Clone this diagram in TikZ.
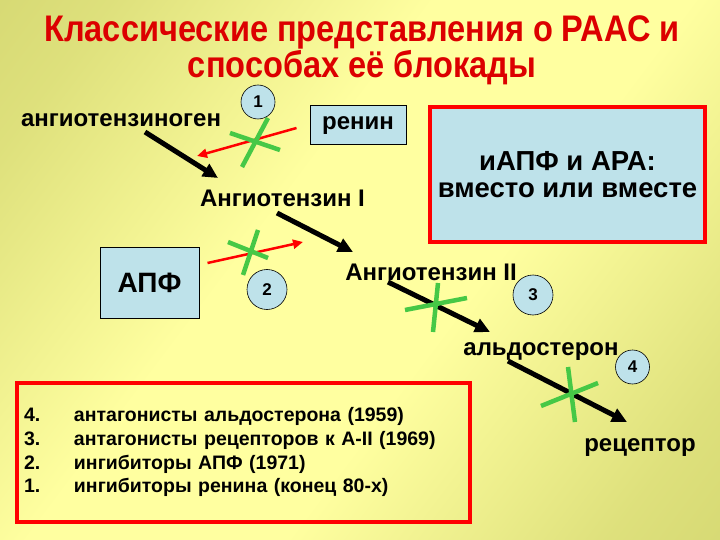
\documentclass[tikz,border=0pt]{standalone}
\usepackage{fontspec}
\setmainfont{Liberation Sans}
\newfontfamily\titlefont[FakeStretch=0.88]{Liberation Sans}
\usetikzlibrary{arrows.meta}
\definecolor{olive}{RGB}{200,204,100}
\definecolor{pale}{RGB}{255,255,160}
\definecolor{lblue}{RGB}{190,226,234}
\definecolor{xgreen}{RGB}{70,200,70}
\definecolor{ttlred}{RGB}{220,0,0}
\pgfdeclarehorizontalshading{bgband}{100bp}{color(0bp)=(olive); color(22bp)=(olive!60!pale); color(42bp)=(pale); color(58bp)=(pale); color(78bp)=(olive!60!pale); color(100bp)=(olive)}

\begin{document}
\begin{tikzpicture}[x=1pt, y=-1pt,
    title/.style={text=ttlred, align=center, font=\titlefont\fontsize{37}{33}\selectfont\bfseries},
    lbl/.style={anchor=base, font=\fontsize{24}{28}\selectfont\bfseries},
    bbox/.style={draw, fill=lblue, line width=1pt, font=\fontsize{24}{28}\selectfont\bfseries},
    num/.style={circle, draw, fill=lblue, line width=0.6pt, inner sep=0pt, font=\fontsize{17}{20}\selectfont\bfseries},
    conv/.style={line width=5pt, -{Triangle[length=15pt,width=14pt]}},
    inh/.style={red, line width=2.5pt, -{Triangle[length=10pt,width=9pt]}},
    cross/.style={xgreen, line width=4.5pt},
    frame/.style={draw=red, line width=4pt}]
  \shade[shading=bgband, shading angle=-37] (0,0) rectangle (720,540);
  \useasboundingbox (0,0) rectangle (720,540);

  \node[title] (ttl) at (362,50) {Классические представления о РААС и\\способах её блокады};

  \node[lbl] (agen) at (121,127) {ангиотензиноген};
  \node[num, minimum size=34pt] (n1) at (258,102) {1};
  \node[bbox, minimum width=96pt, minimum height=39pt] (renin) at (358,125.5) {ренин};
  \node[lbl] (ang1) at (282.5,207) {Ангиотензин I};
  \node[frame, fill=lblue, minimum width=275pt, minimum height=135pt, align=center,
        font=\fontsize{27.5}{27}\selectfont\bfseries] (q) at (567.5,174.5) {иАПФ и АРА:\\вместо или вместе};
  \node[bbox, minimum width=99pt, minimum height=71pt, font=\fontsize{28}{32}\selectfont\bfseries] (apf) at (149.5,282.5) {АПФ};
  \node[num, minimum size=40pt] (n2) at (267,289.5) {2};
  \node[lbl] (ang2) at (431,280) {Ангиотензин II};
  \node[num, minimum size=40pt] (n3) at (533,295) {3};
  \node[lbl] (ald) at (541,355) {альдостерон};
  \node[num, minimum size=34pt] (n4) at (632.5,367) {4};
  \node[lbl] (rec) at (640,451) {рецептор};

  \node[frame, anchor=north west, inner xsep=7pt, inner ysep=0pt, text width=439pt, minimum height=139pt,
        align=left, font=\fontsize{19.5}{23.7}\selectfont\bfseries] (lst) at (15,381)
    {\begin{tabular}{@{}p{50pt}@{}l@{}}
      4. & антагонисты альдостерона (1959)\\
      3. & антагонисты рецепторов к А-II (1969)\\
      2. & ингибиторы АПФ (1971)\\
      1. & ингибиторы ренина (конец 80-х)
    \end{tabular}};

  \draw[conv] ([xshift=24pt,yshift=-5pt]agen.base) -- ([xshift=-64.5pt,yshift=29pt]ang1.base);
  \draw[conv] ([xshift=-5.5pt,yshift=-6pt]ang1.base) -- ([xshift=-78pt,yshift=28pt]ang2.base);
  \draw[conv] ([xshift=-43pt,yshift=-2pt]ang2.base) -- ([xshift=-51pt,yshift=23pt]ald.base);
  \draw[conv] ([xshift=-33pt,yshift=-6pt]ald.base) -- ([xshift=-13pt,yshift=29pt]rec.base);
  \draw[inh] ([xshift=-13pt,yshift=-2.5pt]renin.west) -- ([xshift=76pt,yshift=-29pt]agen.base);
  \draw[inh] ([xshift=8pt,yshift=19.5pt]apf.east) -- ([xshift=20.5pt,yshift=-35pt]ang1.base);

  \draw[cross] (230,133) -- (280,150) (268,118) -- (242,167);
  \draw[cross] (228,242) -- (268,258) (258,230) -- (243,275);
  \draw[cross] (405,310) -- (467,298) (438,283) -- (433,332);
  \draw[cross] (541,406) -- (598,383) (568,367) -- (575,422);
\end{tikzpicture}
\end{document}
